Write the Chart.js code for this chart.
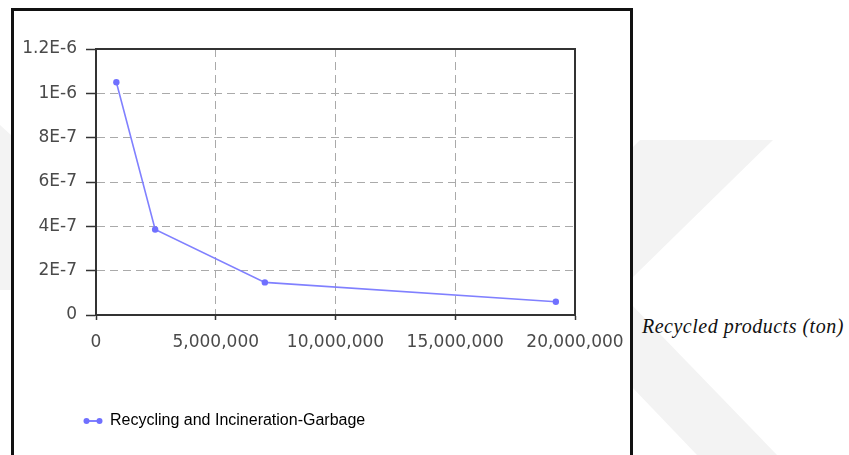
<!DOCTYPE html>
<html>
<head>
<meta charset="utf-8">
<script src="https://cdn.jsdelivr.net/npm/chart.js@4/dist/chart.umd.min.js"></script>
<style>
  html, body { margin: 0; padding: 0; background: #fff; }
  body { width: 849px; height: 455px; position: relative; overflow: hidden; }
  .wm { position: absolute; left: 0; top: 0; width: 849px; height: 455px; background: #f3f3f3; }
  #frame { position: absolute; left: 11px; top: 8px; width: 622px; height: 520px;
           box-sizing: border-box; border: 3px solid #111; background: #fff; }
  #wrap { position: absolute; left: 0; top: 0; width: 640px; height: 455px; }
  #xTitle { position: absolute; left: 642px; top: 316px; font: italic 20px "Liberation Serif", serif;
            letter-spacing: 0.5px; line-height: 20px; color: #111; white-space: nowrap; }
</style>
</head>
<body>
<div class="wm" style="clip-path: polygon(640px 140px, 773px 140px, 630px 280px, 630px 150px);"></div>
<div class="wm" style="clip-path: polygon(630px 303px, 777px 455px, 697px 455px, 630px 385px);"></div>
<div class="wm" style="clip-path: polygon(0px 125px, 11px 135px, 11px 290px, 0px 290px);"></div>
<div id="frame"></div>
<div id="wrap"><canvas id="chart" width="640" height="455"></canvas></div>
<div id="xTitle">Recycled products (ton)</div>
<script>
// Data
const seriesName = 'Recycling and Incineration-Garbage';
const recycled = [850000, 2470000, 7050000, 19200000];
const risk = [1.05e-6, 3.86e-7, 1.47e-7, 6.0e-8];

const xTickValues = [0, 5000000, 10000000, 15000000, 20000000];
const xTickLabels = ['0', '5,000,000', '10,000,000', '15,000,000', '20,000,000'];
const yTickValues = [0, 2e-7, 4e-7, 6e-7, 8e-7, 1e-6, 1.2e-6];
const yTickLabels = ['0', '2E-7', '4E-7', '6E-7', '8E-7', '1E-6', '1.2E-6'];

const lineColor = '#8080ff';

// legend marker: line with a dot at each end
const marker = document.createElement('canvas');
marker.width = 20; marker.height = 8;
const mctx = marker.getContext('2d');
mctx.strokeStyle = lineColor; mctx.lineWidth = 2;
mctx.beginPath(); mctx.moveTo(3, 4); mctx.lineTo(17, 4); mctx.stroke();
mctx.fillStyle = '#7070ff';
mctx.beginPath(); mctx.arc(3.5, 4, 3, 0, Math.PI * 2); mctx.fill();
mctx.beginPath(); mctx.arc(16.5, 4, 3, 0, Math.PI * 2); mctx.fill();

// top + right edges of the plot box
const plotFrame = {
    id: 'plotFrame',
    afterDraw(chart) {
        const a = chart.chartArea, ctx = chart.ctx;
        ctx.save();
        ctx.strokeStyle = '#333';
        ctx.lineWidth = 2;
        ctx.beginPath();
        ctx.moveTo(a.left, a.top);
        ctx.lineTo(a.right, a.top);
        ctx.lineTo(a.right, a.bottom);
        ctx.stroke();
        ctx.restore();
    }
};

Chart.defaults.font.family = '"DejaVu Sans", sans-serif';

new Chart(document.getElementById('chart'), {
    type: 'line',
    data: {
        datasets: [{
            label: seriesName,
            data: recycled.map((x, i) => ({ x: x, y: risk[i] })),
            borderColor: lineColor,
            backgroundColor: '#7070ff',
            borderWidth: 1.6,
            pointRadius: 3.2,
            pointBorderWidth: 0,
            pointStyle: 'circle',
            tension: 0
        }]
    },
    options: {
        responsive: false,
        animation: false,
        layout: { padding: { left: 20, top: 49, right: 65, bottom: 16 } },
        plugins: {
            tooltip: { enabled: false },
            legend: {
                position: 'bottom',
                align: 'start',
                labels: {
                    padding: 64,
                    usePointStyle: true,
                    pointStyleWidth: 18,
                    color: '#222',
                    font: { family: '"Liberation Sans", sans-serif', size: 16 },
                    generateLabels: (chart) => [{
                        text: seriesName,
                        pointStyle: marker,
                        fillStyle: lineColor,
                        strokeStyle: lineColor,
                        lineWidth: 0,
                        datasetIndex: 0
                    }]
                }
            }
        },
        scales: {
            x: {
                type: 'linear',
                min: 0, max: 20000000,
                afterBuildTicks: (s) => { s.ticks = xTickValues.map(v => ({ value: v })); },
                afterFit: (s) => { s.height = 34; },
                ticks: {
                    color: '#4a4a4a', font: { size: 17 }, padding: 12, maxRotation: 0, autoSkip: false,
                    callback: (v, i) => xTickLabels[i]
                },
                grid: { color: '#aaa', tickLength: 5, tickColor: '#333', tickWidth: 1.5, tickBorderDash: [] },
                border: { display: true, color: '#333', width: 2, dash: [8, 5] }
            },
            y: {
                min: 0, max: 1.2e-6,
                afterBuildTicks: (s) => { s.ticks = yTickValues.map(v => ({ value: v })); },
                afterFit: (s) => { s.width = 76; },
                ticks: {
                    color: '#4a4a4a', font: { size: 17 }, padding: 9, autoSkip: false,
                    callback: (v, i) => yTickLabels[i]
                },
                grid: { color: '#aaa', tickLength: 10, tickColor: '#333', tickWidth: 1.5, tickBorderDash: [] },
                border: { display: true, color: '#333', width: 2, dash: [8, 5] }
            }
        }
    },
    plugins: [plotFrame]
});
</script>
</body>
</html>
